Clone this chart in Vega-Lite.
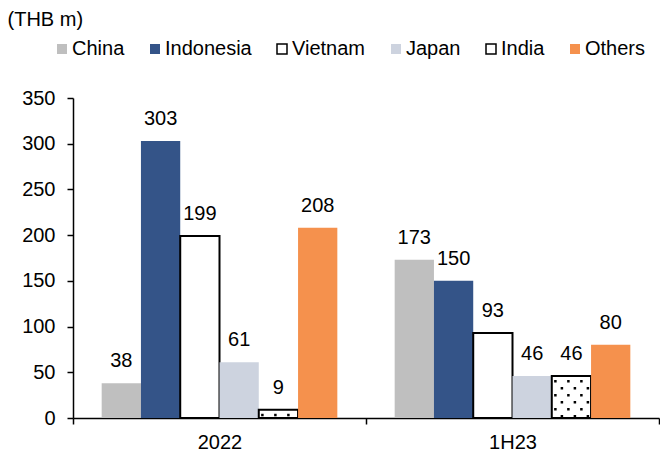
{
  "$schema": "https://vega.github.io/schema/vega-lite/v6.json",
  "width": 586,
  "height": 320,
  "autosize": {"type": "none"},
  "padding": {"left": 73, "top": 98, "right": 1, "bottom": 36},
  "background": "white",
  "config": {
    "font": "Liberation Sans",
    "view": {"stroke": null},
    "axis": {
      "domainColor": "black",
      "domainWidth": 1.5,
      "tickColor": "black",
      "tickWidth": 1.5,
      "tickSize": 6,
      "labelColor": "black",
      "labelFontSize": 20,
      "grid": false
    },
    "legend": {
      "orient": "none",
      "legendX": -21,
      "legendY": -59,
      "direction": "horizontal",
      "columns": 6,
      "padding": 0,
      "symbolType": "square",
      "symbolSize": 100,
      "symbolStrokeWidth": 1.5,
      "labelOffset": 0,
      "columnPadding": 20,
      "labelFontSize": 20,
      "labelColor": "black"
    }
  },
  "data": {
    "values": [
      {"period": "2022", "country": "China", "value": 38},
      {"period": "2022", "country": "Indonesia", "value": 303},
      {"period": "2022", "country": "Vietnam", "value": 199},
      {"period": "2022", "country": "Japan", "value": 61},
      {"period": "2022", "country": "India", "value": 9},
      {"period": "2022", "country": "Others", "value": 208},
      {"period": "1H23", "country": "China", "value": 173},
      {"period": "1H23", "country": "Indonesia", "value": 150},
      {"period": "1H23", "country": "Vietnam", "value": 93},
      {"period": "1H23", "country": "Japan", "value": 46},
      {"period": "1H23", "country": "India", "value": 46},
      {"period": "1H23", "country": "Others", "value": 80}
    ]
  },
  "layer": [
    {
      "mark": {"type": "bar", "strokeWidth": 2},
      "encoding": {
        "x": {
          "field": "period", "type": "nominal", "sort": ["2022", "1H23"],
          "scale": {"paddingInner": 0, "paddingOuter": 0},
          "axis": {"title": null, "labelAngle": 0, "tickBand": "extent", "labelPadding": 8}
        },
        "xOffset": {
          "field": "country", "type": "nominal",
          "sort": ["China", "Indonesia", "Vietnam", "Japan", "India", "Others"],
          "scale": {"paddingInner": 0, "paddingOuter": 0.73}
        },
        "y": {
          "field": "value", "type": "quantitative",
          "scale": {"domain": [0, 350]},
          "axis": {
            "values": [0, 50, 100, 150, 200, 250, 300, 350],
            "labelPadding": 12,
            "title": "(THB m)",
            "titleAngle": 0,
            "titleX": -66,
            "titleY": -79,
            "titleAlign": "left",
            "titleBaseline": "middle",
            "titleFontSize": 20,
            "titleFontWeight": "normal",
            "titleColor": "black"
          }
        },
        "fill": {
          "field": "country", "type": "nominal",
          "sort": ["China", "Indonesia", "Vietnam", "Japan", "India", "Others"],
          "scale": {
            "domain": ["China", "Indonesia", "Vietnam", "Japan", "India", "Others"],
            "range": ["#BFBFBF", "#345488", "#FFFFFF", "#CDD3DF", "#FFFFFF", "#F5914D"]
          },
          "legend": {"title": null}
        },
        "stroke": {
          "field": "country", "type": "nominal",
          "sort": ["China", "Indonesia", "Vietnam", "Japan", "India", "Others"],
          "scale": {
            "domain": ["China", "Indonesia", "Vietnam", "Japan", "India", "Others"],
            "range": ["transparent", "transparent", "#000000", "transparent", "#000000", "transparent"]
          },
          "legend": {"title": null}
        }
      }
    },
    {
      "transform": [{"filter": "datum.country === 'India'"}],
      "mark": {"type": "rule", "color": "black", "strokeWidth": 2.5, "strokeDash": [2.5, 11.5], "strokeDashOffset": 10, "xOffset": -16},
      "encoding": {
        "x": {"field": "period", "type": "nominal", "sort": ["2022", "1H23"], "bandPosition": 0.701},
        "y": {"field": "value", "type": "quantitative"},
        "y2": {"datum": 0}
      }
    },
    {
      "transform": [{"filter": "datum.country === 'India'"}],
      "mark": {"type": "rule", "color": "black", "strokeWidth": 2.5, "strokeDash": [2.5, 11.5], "strokeDashOffset": 3, "xOffset": -9.5},
      "encoding": {
        "x": {"field": "period", "type": "nominal", "sort": ["2022", "1H23"], "bandPosition": 0.701},
        "y": {"field": "value", "type": "quantitative"},
        "y2": {"datum": 0}
      }
    },
    {
      "transform": [{"filter": "datum.country === 'India'"}],
      "mark": {"type": "rule", "color": "black", "strokeWidth": 2.5, "strokeDash": [2.5, 11.5], "strokeDashOffset": 10, "xOffset": -3},
      "encoding": {
        "x": {"field": "period", "type": "nominal", "sort": ["2022", "1H23"], "bandPosition": 0.701},
        "y": {"field": "value", "type": "quantitative"},
        "y2": {"datum": 0}
      }
    },
    {
      "transform": [{"filter": "datum.country === 'India'"}],
      "mark": {"type": "rule", "color": "black", "strokeWidth": 2.5, "strokeDash": [2.5, 11.5], "strokeDashOffset": 3, "xOffset": 3.5},
      "encoding": {
        "x": {"field": "period", "type": "nominal", "sort": ["2022", "1H23"], "bandPosition": 0.701},
        "y": {"field": "value", "type": "quantitative"},
        "y2": {"datum": 0}
      }
    },
    {
      "transform": [{"filter": "datum.country === 'India'"}],
      "mark": {"type": "rule", "color": "black", "strokeWidth": 2.5, "strokeDash": [2.5, 11.5], "strokeDashOffset": 10, "xOffset": 10},
      "encoding": {
        "x": {"field": "period", "type": "nominal", "sort": ["2022", "1H23"], "bandPosition": 0.701},
        "y": {"field": "value", "type": "quantitative"},
        "y2": {"datum": 0}
      }
    },
    {
      "transform": [{"filter": "datum.country === 'India'"}],
      "mark": {"type": "rule", "color": "black", "strokeWidth": 2.5, "strokeDash": [2.5, 11.5], "strokeDashOffset": 3, "xOffset": 16.5},
      "encoding": {
        "x": {"field": "period", "type": "nominal", "sort": ["2022", "1H23"], "bandPosition": 0.701},
        "y": {"field": "value", "type": "quantitative"},
        "y2": {"datum": 0}
      }
    },
    {
      "mark": {"type": "text", "baseline": "alphabetic", "dy": -16, "fontSize": 20, "color": "black"},
      "encoding": {
        "x": {"field": "period", "type": "nominal", "sort": ["2022", "1H23"]},
        "xOffset": {"field": "country", "type": "nominal", "sort": ["China", "Indonesia", "Vietnam", "Japan", "India", "Others"]},
        "y": {"field": "value", "type": "quantitative"},
        "text": {"field": "value", "type": "quantitative"}
      }
    }
  ]
}
